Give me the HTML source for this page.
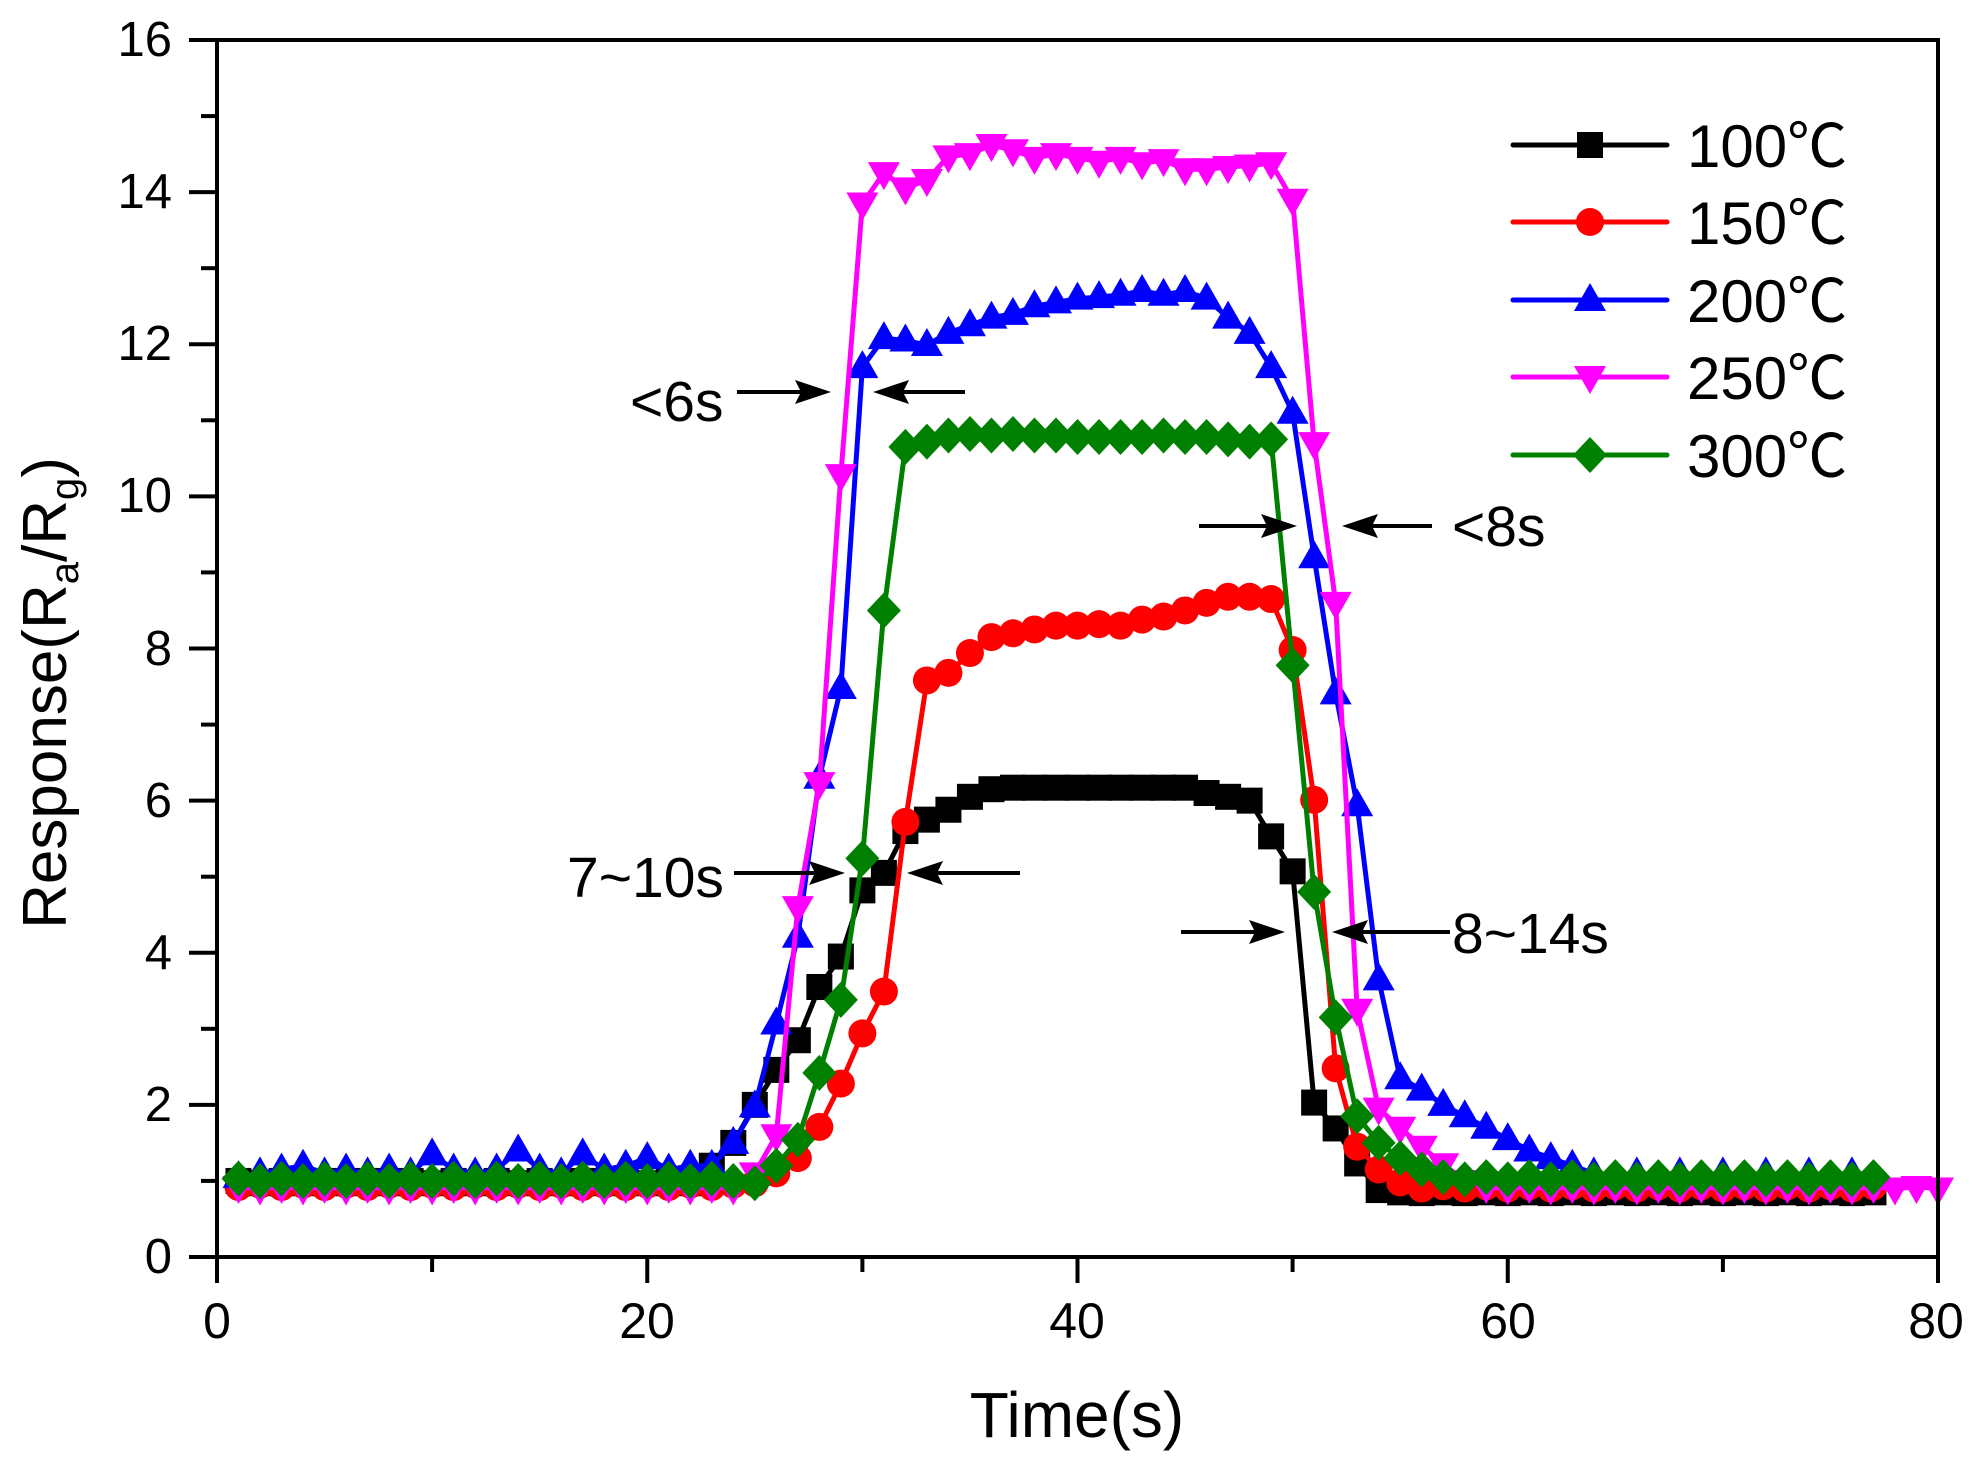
<!DOCTYPE html>
<html>
<head>
<meta charset="utf-8">
<style>
  html, body { margin: 0; padding: 0; background: #fff; }
  svg { display: block; }
  text { font-family: "Liberation Sans", "Noto Sans CJK SC", sans-serif; fill: #000; }
</style>
</head>
<body>
<svg id="chart" width="1975" height="1460" viewBox="0 0 1975 1460" xmlns="http://www.w3.org/2000/svg">
  <rect x="0" y="0" width="1975" height="1460" fill="#fff"/>

  <!-- data series -->
  <g id="series"></g>

  <!-- axes box -->
  <rect x="217" y="40" width="1721" height="1217" fill="none" stroke="#000" stroke-width="4"/>

  <!-- y ticks -->
  <g stroke="#000" stroke-width="4">
    <line x1="189" y1="1257" x2="217" y2="1257"/>
    <line x1="189" y1="1104.9" x2="217" y2="1104.9"/>
    <line x1="189" y1="952.75" x2="217" y2="952.75"/>
    <line x1="189" y1="800.6" x2="217" y2="800.6"/>
    <line x1="189" y1="648.5" x2="217" y2="648.5"/>
    <line x1="189" y1="496.4" x2="217" y2="496.4"/>
    <line x1="189" y1="344.25" x2="217" y2="344.25"/>
    <line x1="189" y1="192.1" x2="217" y2="192.1"/>
    <line x1="189" y1="40" x2="217" y2="40"/>
    <line x1="201" y1="1180.9" x2="217" y2="1180.9"/>
    <line x1="201" y1="1028.8" x2="217" y2="1028.8"/>
    <line x1="201" y1="876.7" x2="217" y2="876.7"/>
    <line x1="201" y1="724.6" x2="217" y2="724.6"/>
    <line x1="201" y1="572.4" x2="217" y2="572.4"/>
    <line x1="201" y1="420.3" x2="217" y2="420.3"/>
    <line x1="201" y1="268.2" x2="217" y2="268.2"/>
    <line x1="201" y1="116.1" x2="217" y2="116.1"/>
  </g>
  <!-- x ticks -->
  <g stroke="#000" stroke-width="4">
    <line x1="217" y1="1257" x2="217" y2="1283"/>
    <line x1="647.25" y1="1257" x2="647.25" y2="1283"/>
    <line x1="1077.5" y1="1257" x2="1077.5" y2="1283"/>
    <line x1="1507.75" y1="1257" x2="1507.75" y2="1283"/>
    <line x1="1938" y1="1257" x2="1938" y2="1283"/>
    <line x1="432.1" y1="1257" x2="432.1" y2="1272"/>
    <line x1="862.4" y1="1257" x2="862.4" y2="1272"/>
    <line x1="1292.6" y1="1257" x2="1292.6" y2="1272"/>
    <line x1="1722.9" y1="1257" x2="1722.9" y2="1272"/>
  </g>

  <!-- y tick labels -->
  <g font-size="49" text-anchor="end">
    <text x="172" y="1273">0</text>
    <text x="172" y="1121">2</text>
    <text x="172" y="969">4</text>
    <text x="172" y="817">6</text>
    <text x="172" y="665">8</text>
    <text x="172" y="512">10</text>
    <text x="172" y="360">12</text>
    <text x="172" y="208">14</text>
    <text x="172" y="56">16</text>
  </g>
  <!-- x tick labels -->
  <g font-size="50" text-anchor="middle">
    <text x="217" y="1338">0</text>
    <text x="647" y="1338">20</text>
    <text x="1077" y="1338">40</text>
    <text x="1508" y="1338">60</text>
    <text x="1936" y="1338">80</text>
  </g>

  <!-- axis titles -->
  <text x="1077" y="1437" font-size="64" text-anchor="middle">Time(s)</text>
  <text transform="translate(66,693) rotate(-90)" font-size="62" text-anchor="middle">Response(R<tspan font-size="40" dy="12">a</tspan><tspan dy="-12">/R</tspan><tspan font-size="40" dy="12">g</tspan><tspan dy="-12">)</tspan></text>

  <!-- annotations -->
  <g stroke="#000" stroke-width="4" fill="none">
    <line x1="737" y1="392" x2="803" y2="392"/>
    <line x1="901" y1="392" x2="965" y2="392"/>
    <line x1="734" y1="873" x2="817" y2="873"/>
    <line x1="935" y1="873" x2="1020" y2="873"/>
    <line x1="1199" y1="526" x2="1269" y2="526"/>
    <line x1="1370" y1="526" x2="1432" y2="526"/>
    <line x1="1181" y1="932" x2="1257" y2="932"/>
    <line x1="1360" y1="932" x2="1450" y2="932"/>
  </g>
  <g fill="#000">
    <polygon points="831,392 795,380 801,392 795,404"/>
    <polygon points="873,392 909,380 903,392 909,404"/>
    <polygon points="845,873 809,861 815,873 809,885"/>
    <polygon points="907,873 943,861 937,873 943,885"/>
    <polygon points="1297,526 1261,514 1267,526 1261,538"/>
    <polygon points="1342,526 1378,514 1372,526 1378,538"/>
    <polygon points="1285,932 1249,920 1255,932 1249,944"/>
    <polygon points="1332,932 1368,920 1362,932 1368,944"/>
  </g>
  <g font-size="57">
    <text x="630" y="421">&lt;6s</text>
    <text x="567" y="897">7~10s</text>
    <text x="1452" y="546">&lt;8s</text>
    <text x="1452" y="953">8~14s</text>
  </g>

  <!-- legend -->
  <g stroke-width="5" stroke-linecap="round">
    <line x1="1513" y1="145" x2="1667" y2="145" stroke="#000"/>
    <line x1="1513" y1="222" x2="1667" y2="222" stroke="#ff0000"/>
    <line x1="1513" y1="300" x2="1667" y2="300" stroke="#0000ff"/>
    <line x1="1513" y1="377" x2="1667" y2="377" stroke="#ff00ff"/>
    <line x1="1513" y1="455" x2="1667" y2="455" stroke="#008000"/>
  </g>
  <rect x="1577" y="132" width="26" height="26" fill="#000"/>
  <circle cx="1590" cy="222" r="14" fill="#ff0000"/>
  <polygon points="1590,283 1574,311 1606,311" fill="#0000ff"/>
  <polygon points="1590,394 1574,366 1606,366" fill="#ff00ff"/>
  <polygon points="1590,437 1607,455 1590,473 1573,455" fill="#008000"/>
  <g font-size="60">
    <text x="1687" y="167">100℃</text>
    <text x="1687" y="244">150℃</text>
    <text x="1687" y="322">200℃</text>
    <text x="1687" y="399">250℃</text>
    <text x="1687" y="477">300℃</text>
  </g>
</svg>
<script>
(function(){
  var X = function(t){ return 217 + t*21.5125; };
  var Y = function(v){ return 1257 - v*76.0625; };
  function alt(n, a, b){ var r=[]; for(var i=0;i<n;i++) r.push(i%2?b:a); return r; }

  var black = alt(22,1.0,0.97).concat([1.2,1.5,2.0,2.46,2.85,3.55,3.95,4.82,5.05,5.6,5.75,5.88,6.05,6.15,6.17,6.17,6.17,6.17,6.17,6.17,6.17,6.17,6.17,6.1,6.05,6.0,5.53,5.07,2.03,1.69,1.23,0.88]).concat(alt(23,0.85,0.84));
  var red = alt(24,0.92,0.95).concat([0.97,1.1,1.3,1.71,2.28,2.94,3.49,5.72,7.58,7.68,7.94,8.15,8.2,8.25,8.3,8.3,8.32,8.3,8.38,8.42,8.5,8.6,8.68,8.68,8.65,7.98,6.01,2.48,1.45,1.15,0.98]).concat(alt(22,0.9,0.93));
  var blue = [1.05,1.1,1.15,1.2,1.1,1.15,1.1,1.15,1.1,1.35,1.15,1.1,1.15,1.4,1.15,1.1,1.35,1.15,1.2,1.3,1.15,1.2]
    .concat([1.2,1.5,1.98,3.07,4.21,6.3,7.48,11.7,12.08,12.05,11.99,12.15,12.25,12.35,12.4,12.5,12.55,12.6,12.62,12.65,12.7,12.65,12.7,12.6,12.35,12.15,11.7,11.1,9.2,7.41,5.94,3.65,2.35,2.2,2.0,1.85,1.7,1.55,1.4,1.3,1.2,1.1])
    .concat(alt(13,1.05,1.1));
  var mag = alt(24,0.92,0.9).concat([1.1,1.6,4.6,6.23,10.28,13.85,14.25,14.05,14.16,14.47,14.5,14.62,14.55,14.45,14.5,14.45,14.4,14.45,14.38,14.42,14.3,14.3,14.33,14.35,14.38,13.9,10.7,8.6,3.25,1.95,1.7,1.45,1.22,1.0]).concat(alt(22,0.92,0.9));
  var green = alt(24,1.03,1.0).concat([0.97,1.2,1.54,2.42,3.38,5.24,8.5,10.65,10.72,10.8,10.82,10.8,10.82,10.8,10.8,10.78,10.78,10.78,10.78,10.8,10.78,10.78,10.75,10.72,10.75,7.78,4.8,3.15,1.85,1.5,1.3,1.15]).concat(alt(21,1.05,1.02));

  function marker(type, x, y, c){
    x = +x.toFixed(2); y = +y.toFixed(2);
    if(type==='sq') return '<rect x="'+(x-13)+'" y="'+(y-13)+'" width="26" height="26" fill="'+c+'"/>';
    if(type==='ci') return '<circle cx="'+x+'" cy="'+y+'" r="14" fill="'+c+'"/>';
    if(type==='up') return '<polygon points="'+x+','+(y-17)+' '+(x-16)+','+(y+11)+' '+(x+16)+','+(y+11)+'" fill="'+c+'"/>';
    if(type==='dn') return '<polygon points="'+x+','+(y+17)+' '+(x-16)+','+(y-11)+' '+(x+16)+','+(y-11)+'" fill="'+c+'"/>';
    if(type==='di') return '<polygon points="'+x+','+(y-18)+' '+(x+17)+','+y+' '+x+','+(y+18)+' '+(x-17)+','+y+'" fill="'+c+'"/>';
    return '';
  }
  function series(vals, color, type){
    var pts = [], m = '';
    for(var i=0;i<vals.length;i++){
      var t = i+1, x = X(t), y = Y(vals[i]);
      pts.push(x.toFixed(2)+','+y.toFixed(2));
      m += marker(type, x, y, color);
    }
    return '<polyline points="'+pts.join(' ')+'" fill="none" stroke="'+color+'" stroke-width="5" stroke-linejoin="round" stroke-linecap="round"/>' + m;
  }
  var html = series(black,'#000000','sq') + series(red,'#ff0000','ci') + series(blue,'#0000ff','up') + series(mag,'#ff00ff','dn') + series(green,'#008000','di');
  document.getElementById('series').innerHTML = html;
})();
</script>
</body>
</html>
